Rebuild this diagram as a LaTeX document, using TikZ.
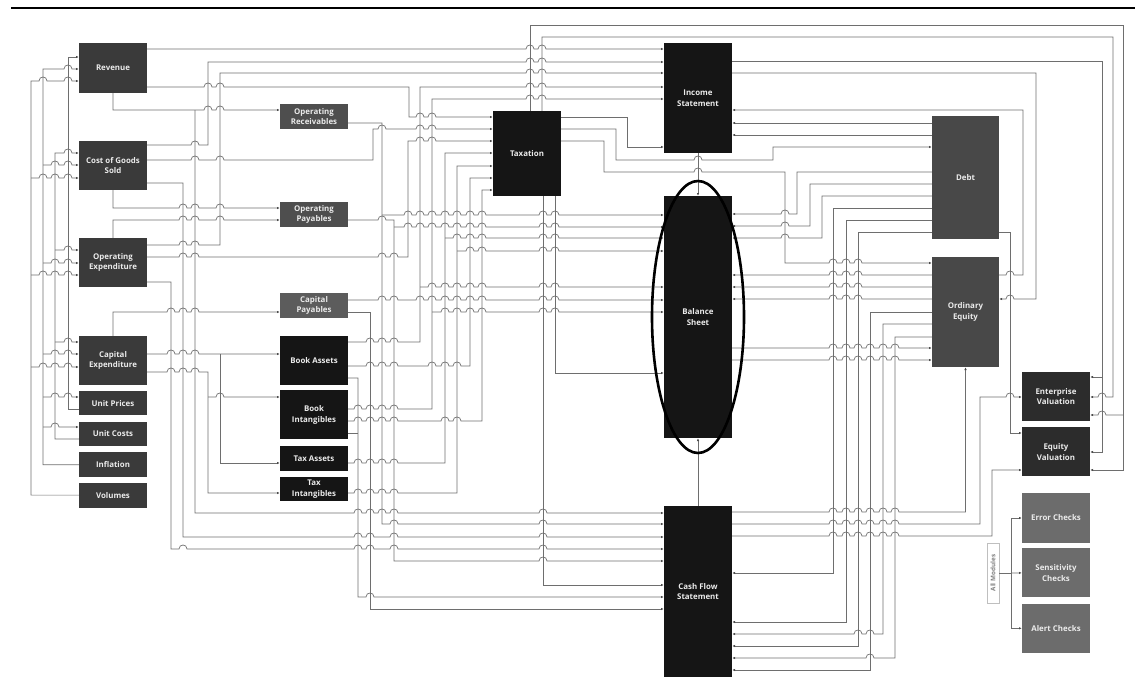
\documentclass[tikz,border=0pt]{standalone}
\usepackage{fontspec}
\setsansfont{Open Sans}
\usetikzlibrary{arrows.meta,positioning}
\definecolor{lcol}{HTML}{3A3A3A}
\definecolor{mcol}{HTML}{4E4E4E}
\definecolor{pcol}{HTML}{5C5C5C}
\definecolor{core}{HTML}{151515}
\definecolor{ecol}{HTML}{484848}
\definecolor{vcol}{HTML}{2C2C2C}
\definecolor{ccol}{HTML}{6C6C6C}
\definecolor{wire}{HTML}{6E6E6E}
\newcommand\hops[2]{\foreach \h in {#2}{-- (\h-4,#1) .. controls (\h-4,#1-5.3) and (\h+4,#1-5.3) .. (\h+4,#1)}}
\begin{document}
\begin{tikzpicture}[x=1pt,y=-1pt,>={Latex[length=2.8pt,width=2.4pt,color=black!70]},
  box/.style={fill=#1,text=white!92!black,font=\sffamily\bfseries\fontsize{7.9}{10.5}\selectfont,align=center,minimum width=68pt,inner sep=1pt},
  w/.style={draw=wire,line width=0.7pt}]
\useasboundingbox (0,0) rectangle (1135,693);
\draw[line width=2.4pt] (11,8) -- (1135,8);
\node[box=lcol,minimum height=50pt] (rev) at (113,68) {Revenue};
\node[box=lcol,minimum height=49pt] (cogs) at (113,165.5) {Cost of Goods\\Sold};
\node[box=lcol,minimum height=49pt] (opex) at (113,262.5) {Operating\\Expenditure};
\node[box=lcol,minimum height=49pt] (capex) at (113,360.5) {Capital\\Expenditure};
\node[box=lcol,minimum height=24pt,below=6pt of capex] (uprice) {Unit Prices};
\node[box=lcol,minimum height=24pt,below=6pt of uprice] (ucost) {Unit Costs};
\node[box=lcol,minimum height=25pt,below=6pt of ucost] (infl) {Inflation};
\node[box=lcol,minimum height=25pt,below=5pt of infl] (vol) {Volumes};
\node[box=mcol,minimum height=25pt] (orec) at (314,116.5) {Operating\\Receivables};
\node[box=mcol,minimum height=25pt] (opay) at (314,214.5) {Operating\\Payables};
\node[box=pcol,minimum height=25pt] (cpay) at (314,305.5) {Capital\\Payables};
\node[box=core,minimum height=49pt] (bassets) at (314,360.5) {Book Assets};
\node[box=core,minimum height=49pt,below=5pt of bassets] (bint) {Book\\Intangibles};
\node[box=core,minimum height=25pt,below=6pt of bint] (tassets) {Tax Assets};
\node[box=core,minimum height=24pt,below=6pt of tassets] (tint) {Tax\\Intangibles};
\node[box=core,minimum height=85pt] (tax) at (527,153.5) {Taxation};
\node[box=core,minimum height=110pt] (inc) at (698,98) {Income\\Statement};
\node[box=core,minimum height=242pt] (bs) at (698,317) {Balance\\Sheet};
\node[box=core,minimum height=171pt] (cfs) at (698,591.5) {Cash Flow\\Statement};
\node[box=ecol,minimum width=67pt,minimum height=123pt] (debt) at (965.5,177.5) {Debt};
\node[box=ecol,minimum width=67pt,minimum height=110pt] (equity) at (965.5,312) {Ordinary\\Equity};
\node[box=vcol,minimum height=49pt] (ev) at (1056,396.5) {Enterprise\\Valuation};
\node[box=vcol,minimum height=49pt,below=6pt of ev] (eqv) {Equity\\Valuation};
\node[box=ccol,minimum height=50pt] (err) at (1056,518) {Error Checks};
\node[box=ccol,minimum height=49pt,below=5pt of err] (sens) {Sensitivity\\Checks};
\node[box=ccol,minimum height=49pt,below=6pt of sens] (alert) {Alert Checks};
\node[draw=gray!50,rotate=90,text=gray,font=\sffamily\bfseries\fontsize{6.3}{7}\selectfont,minimum width=60pt,minimum height=12pt,inner sep=1pt] (allmod) at (993,573) {All Modules};
\coordinate (mj) at (1011,573);
\draw[w,->] (uprice.west|-0,409) -| (68,57) -- (rev.west|-0,57);
\draw[w,->] (ucost.west|-0,439) -| (55,153) \hops{153}{68} -- (cogs.west|-0,153);
\draw[w,->] (infl.west) -| (43,69) \hops{69}{68} -- (rev.west|-0,69);
\draw[w,->] (vol.west) -| (31,81) \hops{81}{43,68} -- (rev.west|-0,81);
\draw[w,->] (55,250) \hops{250}{68} -- (opex.west|-0,250);
\draw[w,->] (55,342) \hops{342}{68} -- (capex.west|-0,342);
\draw[w,->] (43,165) \hops{165}{55,68} -- (cogs.west|-0,165);
\draw[w,->] (43,263) \hops{263}{55,68} -- (opex.west|-0,263);
\draw[w,->] (43,354) \hops{354}{55,68} -- (capex.west|-0,354);
\draw[w,->] (43,397) \hops{397}{55,68} -- (uprice.west|-0,397);
\draw[w,->] (43,427) \hops{427}{55} -- (ucost.west|-0,427);
\draw[w,->] (31,178) \hops{178}{43,55,68} -- (cogs.west|-0,178);
\draw[w,->] (31,275) \hops{275}{43,55,68} -- (opex.west|-0,275);
\draw[w,->] (31,367) \hops{367}{43,55,68} -- (capex.west|-0,367);
\draw[w,->] (rev.east|-0,49) \hops{49}{530,542} -- (inc.west|-0,49);
\draw[w,->] (cogs.east|-0,145) \hops{145}{195} -- (208,145) -- (208,62) \hops{62}{530,542} -- (inc.west|-0,62);
\draw[w,->] (opex.east|-0,245) \hops{245}{183,195} -- (220,245) -- (220,73) \hops{73}{530,542} -- (inc.west|-0,73);
\draw[w,->] (rev.east|-0,87) \hops{87}{208,220} -- (409,87) -- (409,117) \hops{117}{420,432} -- (tax.west|-0,117);
\draw[w,->] (rev.south) -- (113,110) \hops{110}{208,220} -- (orec.west|-0,110);
\draw[w,->] (195,110) -- (195,513) \hops{513}{358,370,382,394,543} -- (cfs.west|-0,513);
\draw[w,->] (cogs.east|-0,160) \hops{160}{195,220} -- (373,160) -- (373,129) \hops{129}{382,420,432} -- (tax.west|-0,129);
\draw[w,->] (cogs.south) -- (113,208) \hops{208}{183,195,220} -- (opay.west|-0,208);
\draw[w,->] (opex.north) -- (113,220) \hops{220}{183,195,220} -- (opay.west|-0,220);
\draw[w,->] (cogs.east|-0,183) -- (183,183) -- (183,537) \hops{537}{358,370,394,543} -- (cfs.west|-0,537);
\draw[w,->] (opex.east|-0,257) \hops{257}{183,195,382,394} -- (408,257) -- (408,141) \hops{141}{420,432} -- (tax.west|-0,141);
\draw[w,->] (opex.east|-0,282) -- (171,282) -- (171,549) \hops{549}{183,358,370,394,543} -- (cfs.west|-0,549);
\draw[w,->] (capex.north) -- (113,312) \hops{312}{171,183,195} -- (cpay.west|-0,312);
\draw[w,->] (capex.east|-0,354) \hops{354}{171,183,195} -- (bassets.west|-0,354);
\draw[w,->] (220,354) -- (220,463) -- (tassets.west|-0,463);
\draw[w,->] (capex.east|-0,372) \hops{372}{171,183,195} -- (208,372) -- (208,493) -- (tint.west|-0,493);
\draw[w,->] (208,397) \hops{397}{220} -- (bint.west|-0,397);
\draw[w,->] (bassets.east|-0,378) -- (358,378) -- (358,597) \hops{597}{370} -- (cfs.west|-0,597);
\draw[w] (bint.east|-0,433) -- (358,433);
\draw[w,->] (cpay.east|-0,312) -- (370,312) -- (370,609) -- (cfs.west|-0,609);
\draw[w,->] (orec.east|-0,123) -- (382,123) -- (382,524) \hops{524}{394,543} -- (cfs.west|-0,524);
\draw[w,->] (opay.east|-0,220) \hops{220}{382} -- (394,220) -- (394,561) \hops{561}{543} -- (cfs.west|-0,561);
\draw[w,->] (cpay.east|-0,300) \hops{300}{382,394,420,432,445,457,470,482,543,555} -- (bs.west|-0,300);
\draw[w,->] (bassets.east|-0,342) \hops{342}{370,382,394} -- (420,342) -- (420,87) \hops{87}{530,542} -- (inc.west|-0,87);
\draw[w,->] (bint.east|-0,409) \hops{409}{358,370,382,394} -- (432,409) -- (432,99) \hops{99}{530,542} -- (inc.west|-0,99);
\draw[w,->] (tassets.east|-0,463) \hops{463}{358,370,382,394} -- (445,463) -- (445,153) -- (tax.west|-0,153);
\draw[w,->] (tint.east|-0,493) \hops{493}{358,370,382,394} -- (457,493) -- (457,166) -- (tax.west|-0,166);
\draw[w,->] (bassets.east|-0,366) \hops{366}{370,382,394,432,445,457} -- (470,366) -- (470,178) -- (tax.west|-0,178);
\draw[w,->] (bint.east|-0,421) \hops{421}{358,370,382,394,445,457} -- (482,421) -- (482,190) -- (tax.west|-0,190);
\draw[w,->] (382,215) \hops{215}{408,420,432,445,457,470,482,543,555} -- (bs.west|-0,215);
\draw[w,->] (394,227) \hops{227}{408,420,432,445,457,470,482,543,555} -- (bs.west|-0,227);
\draw[w,->] (445,238) \hops{238}{457,470,482,543,555} -- (bs.west|-0,238);
\draw[w,->] (457,251) \hops{251}{470,482,543,555} -- (bs.west|-0,251);
\draw[w,->] (420,287) \hops{287}{432,445,457,470,482,543,555} -- (bs.west|-0,287);
\draw[w,->] (432,312) \hops{312}{445,457,470,482,543,555} -- (bs.west|-0,312);
\draw[w,->] (tax.south-|543,0) -- (543,585) -- (cfs.west|-0,585);
\draw[w,->] (tax.south-|555,0) -- (555,373) -- (bs.west|-0,373);
\draw[w,->] (tax.east|-0,117) -- (627,117) -- (627,147) -- (inc.west|-0,147);
\draw[w,->] (tax.east|-0,129) -- (616,129) -- (616,160) \hops{160}{698} -- (773,160) -- (773,147) -- (debt.west|-0,147);
\draw[w,->] (tax.east|-0,141) -- (604,141) -- (604,172) \hops{172}{698} -- (785,172) -- (785,263) \hops{263}{833,846,858} -- (equity.west|-0,263);
\draw[w,->] (inc.south) -- (bs.north);
\draw[w,->] (cfs.north) -- (bs.south);
\draw[w,<-] (bs.east|-0,214) \hops{214}{785} -- (797,214) -- (797,172) -- (debt.west|-0,172);
\draw[w,<-] (bs.east|-0,226) \hops{226}{785} -- (810,226) -- (810,184) -- (debt.west|-0,184);
\draw[w,<-] (bs.east|-0,238) \hops{238}{785} -- (822,238) -- (822,196) -- (debt.west|-0,196);
\draw[w,<-] (cfs.east|-0,573) -- (833,573) -- (833,208) -- (debt.west|-0,208);
\draw[w,<-] (cfs.east|-0,622) -- (846,622) -- (846,220) -- (debt.west|-0,220);
\draw[w,<-] (cfs.east|-0,646) -- (858,646) -- (858,232) -- (debt.west|-0,232);
\draw[w,<-] (inc.east|-0,123) -- (debt.west|-0,123);
\draw[w,<-] (inc.east|-0,135) -- (debt.west|-0,135);
\draw[w,->] (debt.east|-0,232) -- (1010,232) -- (1010,433) -- (eqv.west|-0,433);
\draw[w,<-] (bs.east|-0,275) \hops{275}{833,846,858} -- (equity.west|-0,275);
\draw[w,<-] (bs.east|-0,287) \hops{287}{833,846,858} -- (equity.west|-0,287);
\draw[w,<-] (bs.east|-0,299) \hops{299}{833,846,858} -- (equity.west|-0,299);
\draw[w,->] (bs.east|-0,348) \hops{348}{833,846,858,870,883,895} -- (equity.west|-0,348);
\draw[w,->] (bs.east|-0,360) \hops{360}{833,846,858,870,883,895} -- (equity.west|-0,360);
\draw[w,<-] (cfs.east|-0,634) \hops{634}{858,870} -- (883,634) -- (883,324) -- (equity.west|-0,324);
\draw[w,<-] (cfs.east|-0,658) \hops{658}{870} -- (895,658) -- (895,337) -- (equity.west|-0,337);
\draw[w,<-] (cfs.east|-0,670) -- (870,670) -- (870,312) -- (equity.west|-0,312);
\draw[w,->] (cfs.east|-0,512) \hops{512}{833,846,858,870,883,895} -- (equity.south|-0,512) -- (equity.south);
\draw[w,->] (cfs.east|-0,524) \hops{524}{833,846,858,870,883,895} -- (980,524) -- (980,397) \hops{397}{1010} -- (ev.west|-0,397);
\draw[w,->] (cfs.east|-0,536) \hops{536}{833,846,858,870,883,895} -- (992,536) -- (992,470) -- (eqv.west|-0,470);
\draw[w,->] (equity.east|-0,275) \hops{275}{1010} -- (1023,275) -- (1023,110) -- (inc.east|-0,110);
\draw[w,<-] (equity.east|-0,299) \hops{299}{1010} -- (1036,299) -- (1036,73) -- (inc.east|-0,73);
\draw[w,->] (inc.east|-0,61) -- (1102,61) -- (1102,452) -- (eqv.east|-0,452);
\draw[w,->] (1102,377) -- (ev.east|-0,377);
\draw[w,<-] (ev.east|-0,397) \hops{397}{1102} -- (1113,397) -- (1113,37) -- (542,37) -- (tax.north-|542,0);
\draw[w,<-] (eqv.east|-0,470) -- (1123,470) -- (1123,25) -- (530,25) -- (tax.north-|530,0);
\draw[w,<-] (ev.east|-0,415) \hops{415}{1102} -- (1123,415);
\draw[w] (allmod.south) -- (mj);
\draw[w,->] (mj) |- (err.west);
\draw[w,->] (mj) -- (sens.west);
\draw[w,->] (mj) |- (alert.west);
\draw[line width=2.6pt] (698,317) ellipse [x radius=46,y radius=136];
\end{tikzpicture}
\end{document}
